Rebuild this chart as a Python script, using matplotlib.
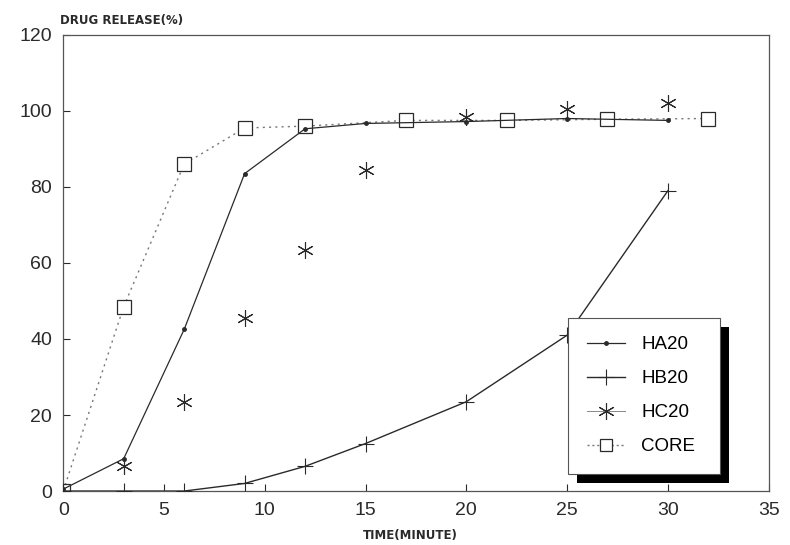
import matplotlib
matplotlib.use("Agg")
import matplotlib.pyplot as plt
from matplotlib.lines import Line2D
from matplotlib.patches import Rectangle

# values
ha20_t = [0, 3, 6, 9, 12, 15, 20, 25, 30]
ha20 = [0.5, 8.5, 42.5, 83.5, 95.3, 96.7, 97.2, 98.0, 97.5]

hb20_t = [0, 3, 6, 9, 12, 15, 20, 25, 30]
hb20 = [0, 0, 0, 2.0, 6.5, 12.5, 23.5, 41.0, 79.0]

hc20_t = [0, 3, 6, 9, 12, 15, 20, 25, 30]
hc20 = [0, 6.5, 23.5, 45.5, 63.5, 84.5, 98.5, 100.5, 102.0]

core_t = [0, 3, 6, 9, 12, 17, 22, 27, 32]
core = [0, 48.5, 86.0, 95.5, 96.0, 97.5, 97.5, 97.8, 98.0]

labels = ["HA20", "HB20", "HC20", "CORE"]
xticks = [0, 5, 10, 15, 20, 25, 30, 35]
yticks = [0, 20, 40, 60, 80, 100, 120]

INK = "#2a2a2a"
ASTER = (6, 2, 0)

plt.rcParams["font.family"] = ["Liberation Sans", "DejaVu Sans"]

fig = plt.figure(figsize=(7.9, 5.45), dpi=100)
ax = fig.add_axes([0.080, 0.099, 0.893, 0.837])

ax.plot(core_t, core, color="#777777", lw=1.0, ls=(0, (1.5, 3)),
        marker="s", ms=10, mfc="white", mec=INK, mew=0.9, zorder=2)
ax.plot(ha20_t, ha20, color=INK, lw=0.9, marker="o", ms=2.5, zorder=3)
ax.plot(hb20_t, hb20, color=INK, lw=1.0, marker="+", ms=11, mew=0.8, zorder=3)
ax.plot(hc20_t[1:], hc20[1:], ls="none", color=INK, marker=ASTER, ms=12,
        mew=0.8, zorder=3)

ax.set_xlim(0, 35)
ax.set_ylim(0, 120)
ax.set_xticks(xticks)
ax.set_yticks(yticks)
ax.tick_params(direction="in", length=5, width=0.8, colors=INK,
               labelsize=14, pad=8)
for s in ax.spines.values():
    s.set_color("#555555")
    s.set_linewidth(0.9)

fig.text(0.076, 0.963, "DRUG RELEASE(%)", fontsize=8.5, weight="bold",
         family="DejaVu Sans", color=INK, ha="left", va="center")
fig.text(0.519, 0.018, "TIME(MINUTE)", fontsize=8.5, weight="bold",
         family="DejaVu Sans", color=INK, ha="center", va="center")

handles = [
    Line2D([], [], color=INK, lw=0.9, marker="o", ms=2.5),
    Line2D([], [], color=INK, lw=1.0, marker="+", ms=11, mew=0.8),
    Line2D([], [], color="#888888", lw=0.7, marker=ASTER, ms=12, mew=0.8,
           mec=INK),
    Line2D([], [], color="#777777", lw=1.0, ls=(0, (1.5, 2)), marker="s",
           ms=8, mfc="white", mec=INK, mew=0.9),
]
leg = ax.legend(handles, labels, loc="lower left",
                bbox_to_anchor=(0.716, 0.037, 0.215, 0.325), mode="expand",
                fancybox=False, framealpha=1, edgecolor="#555555",
                fontsize=13.5, handlelength=2.0, labelspacing=0.9,
                borderpad=1.0, handletextpad=0.9, borderaxespad=0)
leg.get_frame().set_linewidth(0.8)
leg.set_zorder(6)

# heavy black drop shadow behind the legend box
fig.canvas.draw()
bb = leg.get_window_extent().transformed(fig.transFigure.inverted())
dx, dy = 9 / 790, 9 / 545
ax.add_patch(Rectangle((bb.x0 + dx, bb.y0 - dy), bb.width, bb.height,
                       transform=fig.transFigure, facecolor="black",
                       edgecolor="none", zorder=5, clip_on=False))

fig.savefig("out.png", dpi=100)
